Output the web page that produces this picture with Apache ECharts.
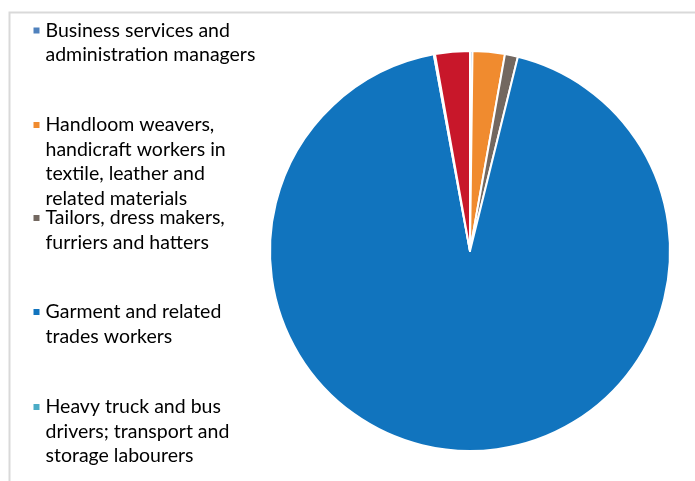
<!DOCTYPE html>
<html>
<head>
<meta charset="utf-8">
<style>
  html, body { margin: 0; padding: 0; background: #ffffff; }
  #chart { width: 695px; height: 481px; }
</style>
<script src="https://cdn.jsdelivr.net/npm/echarts@6/dist/echarts.min.js"></script>
</head>
<body>
<div id="chart"></div>
<script>
// Occupation categories (legend lists the first five)
const categories = [
  'Business services and\nadministration managers',
  'Handloom weavers,\nhandicraft workers in\ntextile, leather and\nrelated materials',
  'Tailors, dress makers,\nfurriers and hatters',
  'Garment and related\ntrades workers',
  'Heavy truck and bus\ndrivers; transport and\nstorage labourers',
  'Other occupations'
];
// Share of workers, per cent
const shares = [0.2, 2.6, 1.05, 93.25, 0.1, 2.8];
const colors = ['#4F81BD', '#F08B2F', '#736860', '#1174BE', '#4BACC6', '#C8172A'];

// Vertical position (icon centre) of each legend entry
const legendCenters = [30.5, 125, 218, 312, 407];
const lineH = 24.5;

// Each entry gets its own legend so the marker sits beside the first text line:
// blank lines are prepended so the first real line lands at the block's middle.
const legends = legendCenters.map((c, i) => {
  const n = categories[i].split('\n').length;
  return {
    data: [categories[i]],
    orient: 'vertical',
    left: 31.5,
    top: c - (2 * n - 1) * lineH / 2,
    padding: 0,
    itemWidth: 8,
    itemHeight: 8,
    itemGap: 0,
    icon: 'rect',
    selectedMode: false,
    formatter: name => '\n'.repeat(n - 1) + name,
    textStyle: {
      fontFamily: 'Lato',
      fontSize: 19.5,
      color: '#000000',
      lineHeight: lineH,
      padding: [0, 0, 0, 0]
    }
  };
});

const chart = echarts.init(document.getElementById('chart'), null, { renderer: 'canvas' });
chart.setOption({
  animation: false,
  color: colors,
  graphic: [{
    type: 'rect',
    shape: { x: 9.5, y: 12.5, width: 720, height: 520 },
    style: { fill: 'none', stroke: '#d9d9d9', lineWidth: 2 },
    silent: true
  }],
  legend: legends,
  series: [{
    type: 'pie',
    center: [470, 251],
    radius: [0, 200],
    startAngle: 90,
    clockwise: true,
    avoidLabelOverlap: false,
    silent: true,
    label: { show: false },
    labelLine: { show: false },
    itemStyle: { borderColor: '#ffffff', borderWidth: 2 },
    data: categories.map((name, i) => ({ name: name, value: shares[i] }))
  }]
});
</script>
</body>
</html>
